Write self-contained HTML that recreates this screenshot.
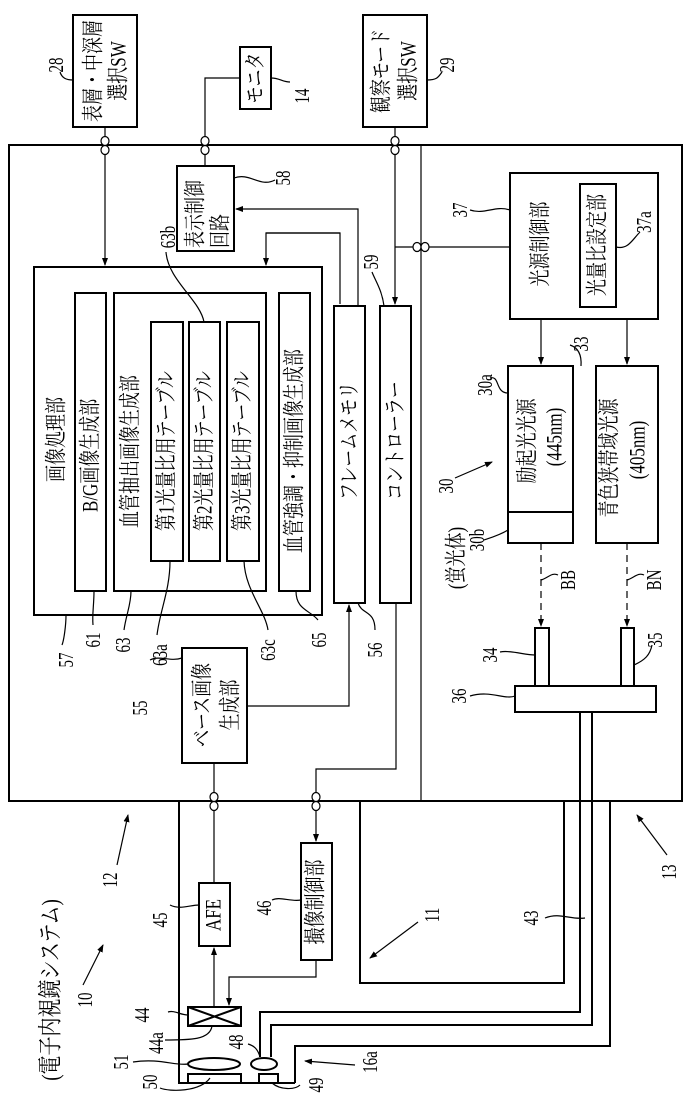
<!DOCTYPE html>
<html><head><meta charset="utf-8"><style>
html,body{margin:0;padding:0;background:#fff;}
svg{display:block;}
text{font-family:"Liberation Serif","Noto Serif CJK SC","Noto Sans CJK JP",serif;fill:#000;}
</style></head><body>
<svg width="684" height="1093" viewBox="0 0 684 1093" xmlns="http://www.w3.org/2000/svg">
<defs>
<marker id="a" markerWidth="8" markerHeight="8" refX="7" refY="3" orient="auto" markerUnits="userSpaceOnUse"><path d="M0,0 L8,3 L0,6 z" fill="#000"/></marker>
</defs>
<g fill="none" stroke="#000" stroke-width="2">
<rect x="73" y="15" width="64" height="112"/>
<rect x="240" y="47" width="31" height="62"/>
<rect x="363" y="15" width="64" height="112"/>
<rect x="9" y="145" width="673" height="656"/>
<rect x="177" y="166" width="57" height="85"/>
<rect x="34" y="267" width="288" height="348"/>
<rect x="75" y="293" width="31" height="298"/>
<rect x="114" y="293" width="152" height="298"/>
<rect x="151" y="322" width="32" height="239"/>
<rect x="189" y="322" width="31" height="239"/>
<rect x="227" y="322" width="32" height="239"/>
<rect x="279" y="293" width="31" height="298"/>
<rect x="334" y="306" width="31" height="297"/>
<rect x="380" y="306" width="31" height="297"/>
<rect x="510" y="173" width="148" height="146"/>
<rect x="580" y="184" width="36" height="123"/>
<rect x="508" y="366" width="65" height="177"/>
<line x1="508" y1="512" x2="573" y2="512"/>
<rect x="596" y="366" width="62" height="177"/>
<rect x="535" y="628" width="14" height="58"/>
<rect x="621" y="628" width="13" height="58"/>
<rect x="515" y="686" width="141" height="26"/>
<rect x="182" y="648" width="65" height="115"/>
<rect x="199" y="883" width="31" height="63"/>
<rect x="301" y="843" width="31" height="117"/>
<rect x="188" y="1007" width="53" height="19"/>
<line x1="188" y1="1007" x2="241" y2="1026"/><line x1="188" y1="1026" x2="241" y2="1007"/>
<path d="M179,801 V1083 H295"/>
<path d="M360,801 V983 H564 V801"/>
<path d="M580,712 V1012 H260 V1057"/>
<path d="M592,712 V1025 H271 V1057"/>
<path d="M610,801 V1046 H295 V1083"/>
<ellipse cx="214" cy="1064" rx="26" ry="6"/>
<ellipse cx="264" cy="1064" rx="13" ry="6"/>
<rect x="188" y="1074" width="53" height="9"/>
<rect x="259" y="1074" width="19" height="9"/>
</g>
<g fill="none" stroke="#000" stroke-width="1.2">
<line x1="421" y1="145" x2="421" y2="801"/>
<line x1="105" y1="127" x2="105" y2="265" marker-end="url(#a)"/>
<path d="M240,78 H205 V166"/>
<line x1="395" y1="127" x2="395" y2="304" marker-end="url(#a)"/>
<line x1="395" y1="247" x2="510" y2="247"/>
<path d="M358,306 V209 H236" marker-end="url(#a)"/>
<path d="M340,304 V233 H266 V265" marker-end="url(#a)"/>
<path d="M266,233 H340" />
<line x1="541" y1="319" x2="541" y2="364" marker-end="url(#a)"/>
<line x1="627" y1="319" x2="627" y2="364" marker-end="url(#a)"/>
<line x1="541" y1="543" x2="541" y2="626" stroke-dasharray="7,5" marker-end="url(#a)"/>
<line x1="627" y1="543" x2="627" y2="626" stroke-dasharray="7,5" marker-end="url(#a)"/>
<path d="M247,706 H349 V605" marker-end="url(#a)"/>
<path d="M396,603 V769 H316 V841" marker-end="url(#a)"/>
<line x1="214" y1="763" x2="214" y2="883"/>
<line x1="214" y1="1007" x2="214" y2="948" marker-end="url(#a)"/>
<path d="M316,960 V977 H229 V1005" marker-end="url(#a)"/>
<line x1="117" y1="865" x2="128" y2="815" marker-end="url(#a)"/>
<line x1="83" y1="985" x2="103" y2="945" marker-end="url(#a)"/>
<line x1="418" y1="922" x2="370" y2="958" marker-end="url(#a)"/>
<line x1="667" y1="855" x2="637" y2="815" marker-end="url(#a)"/>
<line x1="355" y1="1065" x2="305" y2="1061" marker-end="url(#a)"/>
<line x1="455" y1="478" x2="492" y2="462" marker-end="url(#a)"/>
<path d="M73,80 C66,80 62,78 60,72"/>
<path d="M271,78 C280,78 282,82 290,82"/>
<path d="M427,80 C436,80 438,78 442,72"/>
<path d="M234,178 C250,172 260,188 275,180"/>
<path d="M510,210 C495,205 485,215 470,210"/>
<path d="M616,247 C628,250 632,240 640,232"/>
<path d="M166,252 C168,280 200,300 204,322"/>
<path d="M384,306 C382,290 375,280 372,272"/>
<path d="M508,393 C495,393 500,375 490,378"/>
<path d="M508,530 C500,535 490,538 484,540"/>
<path d="M581,366 C582,352 576,347 570,345"/>
<path d="M541,580 C548,578 552,572 558,575"/>
<path d="M627,580 C634,578 638,572 644,575"/>
<path d="M535,655 C525,655 510,650 500,652"/>
<path d="M634,665 C645,660 650,655 652,645"/>
<path d="M515,696 C505,700 490,690 470,696"/>
<path d="M66,615 C66,625 64,640 62,645"/>
<path d="M94,591 C94,605 92,615 93,625"/>
<path d="M131,591 C131,605 126,615 124,630"/>
<path d="M170,561 C170,590 160,610 157,635"/>
<path d="M244,561 C245,590 265,610 268,630"/>
<path d="M296,591 C296,610 310,610 318,620"/>
<path d="M358,603 C362,615 375,610 375,630"/>
<path d="M182,658 C170,662 160,655 150,660"/>
<path d="M199,905 C190,905 180,910 170,905"/>
<path d="M301,900 C290,902 280,896 272,900"/>
<path d="M585,918 C570,920 560,912 545,918"/>
<path d="M188,1015 C180,1015 175,1010 168,1012"/>
<path d="M212,1026 C210,1040 190,1040 165,1040"/>
<path d="M188,1064 C175,1066 160,1058 133,1062"/>
<path d="M260,1057 C258,1050 255,1046 248,1044"/>
<path d="M210,1078 C200,1092 170,1092 160,1088"/>
<path d="M272,1083 C280,1090 295,1090 300,1085"/>
</g>
<g fill="#fff" stroke="#000" stroke-width="1.2">
<ellipse cx="105" cy="141" rx="4" ry="4.5"/><ellipse cx="105" cy="150" rx="4" ry="4.5"/>
<ellipse cx="205" cy="141" rx="4" ry="4.5"/><ellipse cx="205" cy="150" rx="4" ry="4.5"/>
<ellipse cx="395" cy="141" rx="4" ry="4.5"/><ellipse cx="395" cy="150" rx="4" ry="4.5"/>
<ellipse cx="417" cy="247" rx="4" ry="4.5"/><ellipse cx="425" cy="247" rx="4" ry="4.5"/>
<ellipse cx="214" cy="797" rx="4" ry="4.5"/><ellipse cx="214" cy="806" rx="4" ry="4.5"/>
<ellipse cx="316" cy="797" rx="4" ry="4.5"/><ellipse cx="316" cy="806" rx="4" ry="4.5"/>
</g>
<g font-size="17" text-anchor="middle" dominant-baseline="central">
<text transform="translate(94,71) rotate(-90) scale(1,1.3)">表層・中深層</text>
<text transform="translate(119,71) rotate(-90) scale(1,1.3)">選択SW</text>
<text transform="translate(256,78) rotate(-90) scale(1,1.3)">モニタ</text>
<text transform="translate(382,71) rotate(-90) scale(1,1.3)">観察モード</text>
<text transform="translate(409,71) rotate(-90) scale(1,1.3)">選択SW</text>
<text transform="translate(541,244) rotate(-90) scale(1,1.3)">光源制御部</text>
<text transform="translate(598,245) rotate(-90) scale(1,1.3)">光量比設定部</text>
<text transform="translate(528,441) rotate(-90) scale(1,1.3)">励起光光源</text>
<text transform="translate(555,437) rotate(-90) scale(1,1.3)">(445nm)</text>
<text transform="translate(610,458) rotate(-90) scale(1,1.3)">青色狭帯域光源</text>
<text transform="translate(638,450) rotate(-90) scale(1,1.3)">(405nm)</text>
<text transform="translate(457,558) rotate(-90) scale(1,1.3)">(蛍光体)</text>
<text transform="translate(203,705) rotate(-90) scale(1,1.3)">ベース画像</text>
<text transform="translate(231,705) rotate(-90) scale(1,1.3)">生成部</text>
<text transform="translate(214,915) rotate(-90) scale(1,1.3)">AFE</text>
<text transform="translate(316,902) rotate(-90) scale(1,1.3)">撮像制御部</text>
<text font-size="19" transform="translate(50,990) rotate(-90) scale(1,1.3)">(電子内視鏡システム)</text>
</g>
<g font-size="17" text-anchor="start" dominant-baseline="central">
<text transform="translate(196,248) rotate(-90) scale(1,1.3)">表示制御</text>
<text transform="translate(221,248) rotate(-90) scale(1,1.3)">回路</text>
<text transform="translate(57,482) rotate(-90) scale(1,1.3)">画像処理部</text>
<text transform="translate(91,512) rotate(-90) scale(1,1.3)">B/G画像生成部</text>
<text transform="translate(131,528) rotate(-90) scale(1,1.3)">血管抽出画像生成部</text>
<text transform="translate(167,531) rotate(-90) scale(1,1.3)">第1光量比用テーブル</text>
<text transform="translate(205,531) rotate(-90) scale(1,1.3)">第2光量比用テーブル</text>
<text transform="translate(243,531) rotate(-90) scale(1,1.3)">第3光量比用テーブル</text>
<text transform="translate(295,553) rotate(-90) scale(1,1.3)">血管強調・抑制画像生成部</text>
<text transform="translate(350,500) rotate(-90) scale(1,1.3)">フレームメモリ</text>
<text transform="translate(396,500) rotate(-90) scale(1,1.3)">コントローラー</text>
</g>
<g font-size="15" text-anchor="middle" dominant-baseline="central">
<text transform="translate(56,65) rotate(-90) scale(1,1.4)">28</text>
<text transform="translate(302,96) rotate(-90) scale(1,1.4)">14</text>
<text transform="translate(447,65) rotate(-90) scale(1,1.4)">29</text>
<text transform="translate(283,178) rotate(-90) scale(1,1.4)">58</text>
<text transform="translate(460,210) rotate(-90) scale(1,1.4)">37</text>
<text transform="translate(644,222) rotate(-90) scale(1,1.4)">37a</text>
<text transform="translate(168,237) rotate(-90) scale(1,1.4)">63b</text>
<text transform="translate(371,262) rotate(-90) scale(1,1.4)">59</text>
<text transform="translate(581,344) rotate(-90) scale(1,1.4)">33</text>
<text transform="translate(485,385) rotate(-90) scale(1,1.4)">30a</text>
<text transform="translate(446,486) rotate(-90) scale(1,1.4)">30</text>
<text transform="translate(477,540) rotate(-90) scale(1,1.4)">30b</text>
<text transform="translate(568,580) rotate(-90) scale(1,1.4)">BB</text>
<text transform="translate(654,580) rotate(-90) scale(1,1.4)">BN</text>
<text transform="translate(490,655) rotate(-90) scale(1,1.4)">34</text>
<text transform="translate(655,640) rotate(-90) scale(1,1.4)">35</text>
<text transform="translate(459,696) rotate(-90) scale(1,1.4)">36</text>
<text transform="translate(66,660) rotate(-90) scale(1,1.4)">57</text>
<text transform="translate(93,640) rotate(-90) scale(1,1.4)">61</text>
<text transform="translate(123,645) rotate(-90) scale(1,1.4)">63</text>
<text transform="translate(160,655) rotate(-90) scale(1,1.4)">63a</text>
<text transform="translate(268,650) rotate(-90) scale(1,1.4)">63c</text>
<text transform="translate(319,640) rotate(-90) scale(1,1.4)">65</text>
<text transform="translate(375,650) rotate(-90) scale(1,1.4)">56</text>
<text transform="translate(140,708) rotate(-90) scale(1,1.4)">55</text>
<text transform="translate(110,880) rotate(-90) scale(1,1.4)">12</text>
<text transform="translate(669,872) rotate(-90) scale(1,1.4)">13</text>
<text transform="translate(432,915) rotate(-90) scale(1,1.4)">11</text>
<text transform="translate(531,918) rotate(-90) scale(1,1.4)">43</text>
<text transform="translate(160,920) rotate(-90) scale(1,1.4)">45</text>
<text transform="translate(264,908) rotate(-90) scale(1,1.4)">46</text>
<text transform="translate(85,1000) rotate(-90) scale(1,1.4)">10</text>
<text transform="translate(142,1015) rotate(-90) scale(1,1.4)">44</text>
<text transform="translate(156,1043) rotate(-90) scale(1,1.4)">44a</text>
<text transform="translate(236,1042) rotate(-90) scale(1,1.4)">48</text>
<text transform="translate(121,1062) rotate(-90) scale(1,1.4)">51</text>
<text transform="translate(150,1082) rotate(-90) scale(1,1.4)">50</text>
<text transform="translate(316,1085) rotate(-90) scale(1,1.4)">49</text>
<text transform="translate(370,1062) rotate(-90) scale(1,1.4)">16a</text>
</g>
</svg>
</body></html>
